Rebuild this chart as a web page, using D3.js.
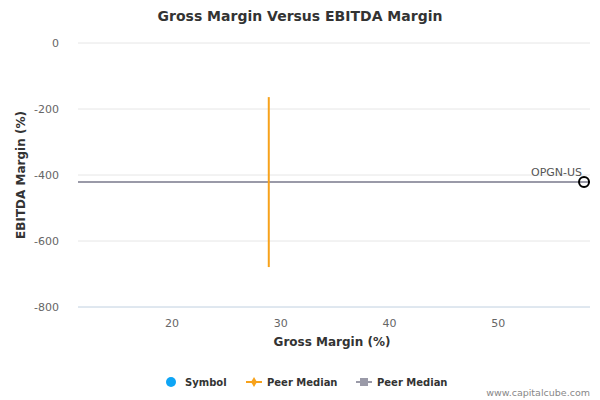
<!DOCTYPE html><html><head><meta charset="utf-8">
<script src="https://cdn.jsdelivr.net/npm/d3@7"></script>
<style>body{margin:0;background:#fff}text{font-family:"DejaVu Sans",sans-serif}</style></head><body>
<svg id="c" width="600" height="400"></svg>
<script>
const symbols=["OPGN-US"];
const grossMargin=[57.9];
const ebitdaMargin=[-421];
const peerMedianGross=28.9;
const peerMedianEbitda=-421;
const vLineRange=[-164,-679];
const xTicks=[20,30,40,50];
const yTicks=[0,-200,-400,-600,-800];
const svg=d3.select("#c");
const x=d3.scaleLinear().domain([11.35,58.45]).range([78,590]);
const y=d3.scaleLinear().domain([0,-800]).range([43,307]);
svg.append("text").attr("x",300).attr("y",21).attr("text-anchor","middle").attr("font-size",14).attr("font-weight","bold").attr("fill","#333").text("Gross Margin Versus EBITDA Margin");
yTicks.forEach(t=>{
 svg.append("line").attr("x1",78).attr("x2",590).attr("y1",y(t)).attr("y2",y(t)).attr("stroke",t===-800?"#c0d0e0":"#e6e6e6");
 svg.append("text").attr("x",59).attr("y",y(t)+4).attr("text-anchor","end").attr("font-size",11).attr("fill","#666").text(t);
});
xTicks.forEach(t=>{
 svg.append("text").attr("x",x(t)).attr("y",327).attr("text-anchor","middle").attr("font-size",11).attr("fill","#666").text(t);
});
svg.append("text").attr("x",332).attr("y",346).attr("text-anchor","middle").attr("font-size",12).attr("font-weight","bold").attr("fill","#333").text("Gross Margin (%)");
svg.append("text").attr("transform","translate(25,175) rotate(-90)").attr("text-anchor","middle").attr("font-size",12).attr("font-weight","bold").attr("fill","#333").text("EBITDA Margin (%)");
svg.append("line").attr("x1",78).attr("x2",590).attr("y1",y(peerMedianEbitda)).attr("y2",y(peerMedianEbitda)).attr("stroke","#9a9aa8").attr("stroke-width",2);
svg.append("line").attr("x1",x(peerMedianGross)).attr("x2",x(peerMedianGross)).attr("y1",y(vLineRange[0])).attr("y2",y(vLineRange[1])).attr("stroke","#f7a21b").attr("stroke-width",2);
symbols.forEach((s,i)=>{
 svg.append("circle").attr("cx",x(grossMargin[i])).attr("cy",y(ebitdaMargin[i])).attr("r",5).attr("fill","none").attr("stroke","#000").attr("stroke-width",2);
 svg.append("text").attr("x",x(grossMargin[i])-2).attr("y",y(ebitdaMargin[i])-6).attr("text-anchor","end").attr("font-size",11).attr("fill","#555").text(s);
});
const ly=382;
svg.append("circle").attr("cx",171).attr("cy",ly).attr("r",5).attr("fill","#0ea5f5");
svg.append("text").attr("x",185).attr("y",ly+4).attr("font-size",10).attr("font-weight","bold").attr("fill","#333").text("Symbol");
svg.append("line").attr("x1",246).attr("x2",262).attr("y1",ly).attr("y2",ly).attr("stroke","#f7a21b").attr("stroke-width",2);
svg.append("path").attr("d",d3.symbol(d3.symbolDiamond,30)()).attr("transform",`translate(254,${ly})`).attr("fill","#f7a21b");
svg.append("text").attr("x",267).attr("y",ly+4).attr("font-size",10).attr("font-weight","bold").attr("fill","#333").text("Peer Median");
svg.append("line").attr("x1",356).attr("x2",372).attr("y1",ly).attr("y2",ly).attr("stroke","#9a9aa8").attr("stroke-width",2);
svg.append("rect").attr("x",360).attr("y",ly-4).attr("width",8).attr("height",8).attr("fill","#9a9aa8");
svg.append("text").attr("x",377).attr("y",ly+4).attr("font-size",10).attr("font-weight","bold").attr("fill","#333").text("Peer Median");
svg.append("text").attr("x",590).attr("y",396).attr("text-anchor","end").attr("font-size",9.5).attr("fill","#888").text("www.capitalcube.com");
</script></body></html>
